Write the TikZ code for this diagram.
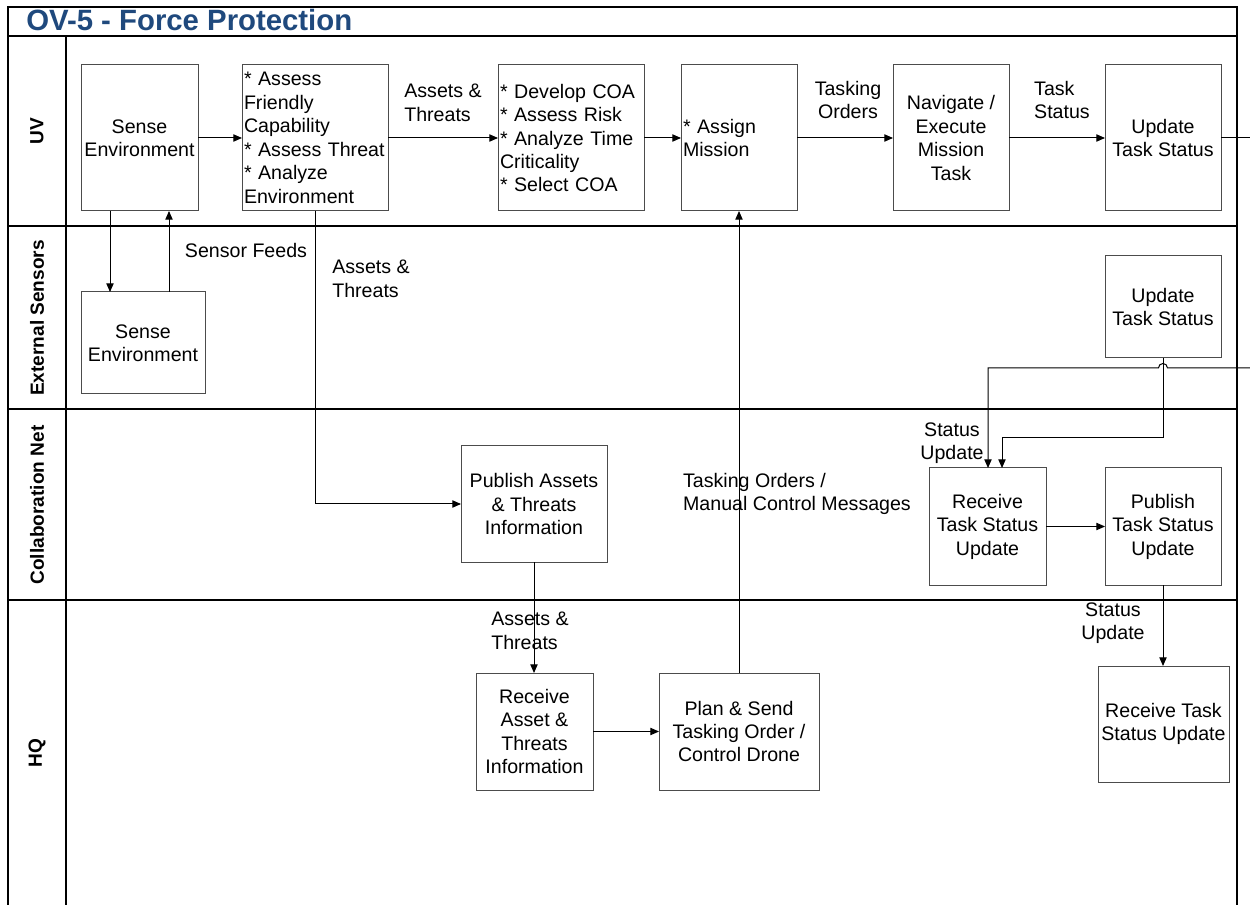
\documentclass[tikz,border=0pt]{standalone}
\usepackage{fontspec}
\setmainfont{Liberation Sans}
\usetikzlibrary{arrows.meta}
\definecolor{titleblue}{RGB}{31,73,125}
\begin{document}
\begin{tikzpicture}[x=0.75pt,y=-0.75pt,
  font=\fontsize{14.7}{17.6}\selectfont,
  box/.style={draw=black!70, line width=0.75pt, fill=white, inner xsep=2.25pt, inner ysep=0pt, outer sep=0pt, align=center},
  lbox/.style={box, inner xsep=1.5pt, align=left},
  arr/.style={-{Triangle[length=6.5pt,width=5.5pt]}, line width=0.75pt},
  plain/.style={line width=0.75pt},
  lbl/.style={inner sep=0pt},
  lane/.style={rotate=90, inner sep=0pt, font=\fontsize{14.3}{17}\selectfont\bfseries},
  frame/.style={line width=1pt}]
\useasboundingbox (0,0) rectangle (1250,905);

% frame and lanes
\draw[frame] (8,905) -- (8,7) -- (1237,7) -- (1237,905);
\draw[frame] (8,36) -- (1237,36);
\draw[frame] (8,226) -- (1237,226);
\draw[frame] (8,409) -- (1237,409);
\draw[frame] (8,600) -- (1237,600);
\draw[frame] (66,36) -- (66,905);

\node[anchor=base west, inner sep=0pt, text=titleblue, font=\fontsize{22}{24}\selectfont\bfseries] (title) at (26,31) {OV-5 - Force Protection};

\node[lane] (lUV) at (37,131) {UV};
\node[lane] (lES) at (37,318) {External Sensors};
\node[lane] (lCN) at (37,505) {Collaboration Net};
\node[lane] (lHQ) at (37,753) {HQ};

% UV boxes
\node[box, minimum width=87.75pt, minimum height=109.5pt] (senseUV) at (139.5,138) {Sense\\Environment};
\node[lbox, minimum width=109.5pt, minimum height=109.5pt, text width=106.5pt] (assess) at (315,138) {{*} Assess\\Friendly\\Capability\\{*} Assess~Threat\\{*} Analyze\\Environment};
\node[lbox, minimum width=109.5pt, minimum height=109.5pt, text width=106.5pt] (develop) at (571,138) {{*} Develop COA\\{*} Assess Risk\\{*} Analyze Time\\Criticality\\{*} Select COA};
\node[lbox, minimum width=87pt, minimum height=109.5pt, text width=84pt] (assign) at (739,138) {{*} Assign\\Mission};
\node[box, minimum width=87pt, minimum height=109.5pt] (navigate) at (951,138) {Navigate /\\Execute\\Mission\\Task};
\node[box, minimum width=87pt, minimum height=109.5pt] (updateUV) at (1163,138) {Update\\Task Status};

% External sensors
\node[box, minimum width=93pt, minimum height=76.5pt] (senseES) at (143,343) {Sense\\Environment};
\node[box, minimum width=87pt, minimum height=76.5pt] (updateES) at (1163,307) {Update\\Task Status};

% Collaboration net
\node[box, minimum width=109.5pt, minimum height=87pt] (publishAT) at (534,504) {Publish Assets\\\& Threats\\Information};
\node[box, minimum width=87.75pt, minimum height=87.75pt] (receiveTS) at (987.5,526.5) {Receive\\Task Status\\Update};
\node[box, minimum width=87pt, minimum height=87.75pt] (publishTS) at (1163,526.5) {Publish\\Task Status\\Update};

% HQ
\node[box, minimum width=87.75pt, minimum height=87.75pt] (receiveAT) at (534.5,731.5) {Receive\\Asset \&\\Threats\\Information};
\node[box, minimum width=120pt, minimum height=87.75pt] (plan) at (739,731.5) {Plan \& Send\\Tasking Order /\\Control Drone};
\node[box, minimum width=98.25pt, minimum height=87pt] (receiveHQ) at (1163.5,724) {Receive Task\\Status Update};

% helper coordinates
\coordinate (xA) at (110,0);
\coordinate (xB) at (169,0);
\coordinate (xC) at (1002,0);
\coordinate (xD) at (988,0);
\coordinate (outUV) at (1250,138);
\coordinate (inES) at (1250,368);

% connectors
\draw[arr] (senseUV.east) -- (assess.west);
\draw[arr] (assess.east) -- (develop.west);
\draw[arr] (develop.east) -- (assign.west);
\draw[arr] (assign.east) -- (navigate.west);
\draw[arr] (navigate.east) -- (updateUV.west);
\draw[plain] (updateUV.east) -- (outUV);

\draw[arr] (senseUV.south -| xA) -- (senseES.north -| xA);
\draw[arr] (senseES.north -| xB) -- (senseUV.south -| xB);

\draw[arr] (assess.south) -- (assess.south |- publishAT.west) -- (publishAT.west);
\draw[arr] (publishAT.south) -- (publishAT.south |- receiveAT.north);
\draw[arr] (receiveAT.east) -- (plan.west);
\draw[arr] (plan.north) -- (assign.south);

\draw[arr] (updateES.south) -- (1163,438) -- (1002,438) -- (receiveTS.north -| xC);
\draw[arr] (inES) -- (1167.5,368) arc[start angle=0, end angle=180, radius=3.4pt] -- (988,368) -- (receiveTS.north -| xD);
\draw[arr] (receiveTS.east) -- (publishTS.west);
\draw[arr] (publishTS.south) -- (publishTS.south |- receiveHQ.north);

% labels
\node[lbl, align=left] (l1) at (443,103) {Assets \&\\Threats};
\node[lbl, align=center] (l2) at (848,100) {Tasking\\Orders};
\node[lbl, align=left] (l3) at (1062,100) {Task\\Status};
\node[lbl] (l4) at (246,250) {Sensor Feeds};
\node[lbl, align=left] (l5) at (371,279) {Assets \&\\Threats};
\node[lbl, align=left] (l6) at (530,631) {Assets \&\\Threats};
\node[lbl, align=left] (l7) at (797,494) {Tasking Orders /\\Manual Control Messages};
\node[lbl, align=center] (l8) at (952,443) {Status\\Update};
\node[lbl, align=center] (l9) at (1113,623) {Status\\Update};
\end{tikzpicture}
\end{document}
